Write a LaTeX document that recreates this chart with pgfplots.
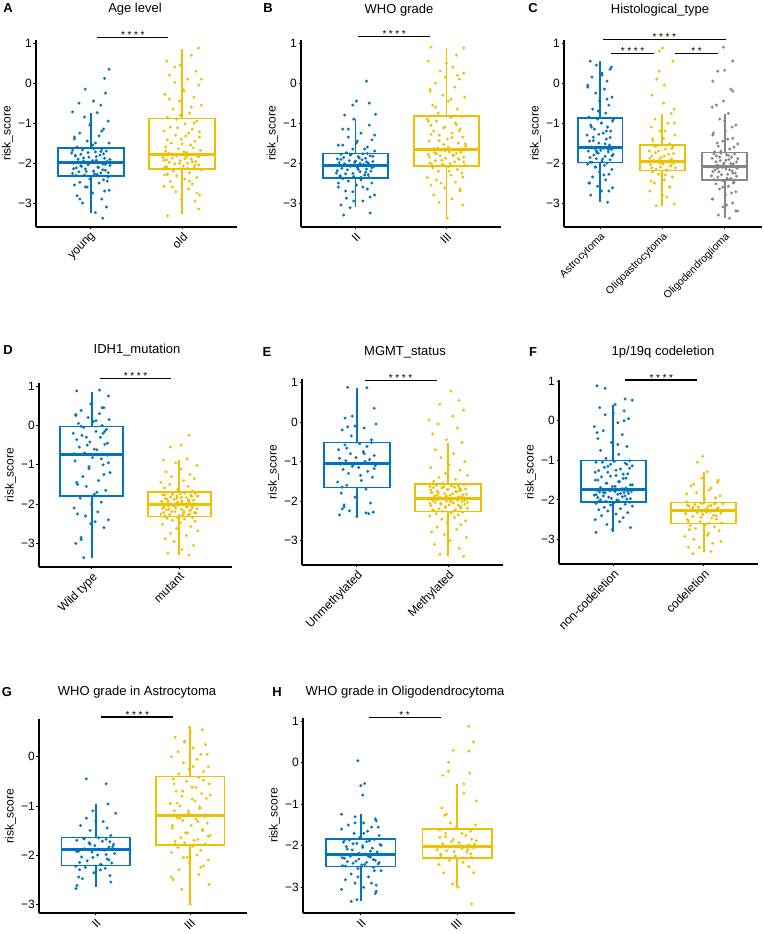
\documentclass[border=0pt]{standalone}
\usepackage{pgfplots}
\pgfplotsset{compat=1.18}
\usepgfplotslibrary{statistics}
\usepackage{fontspec}
\setmainfont{Liberation Sans}
\definecolor{cb}{HTML}{0073C2}
\definecolor{cy}{HTML}{EFC000}
\definecolor{cg}{HTML}{868686}
\newcommand{\bx}[7]{\addplot[draw=#1, solid, line width=1.6pt, boxplot prepared={draw direction=y, draw position=#2, lower whisker=#3, lower quartile=#4, median=#5, upper quartile=#6, upper whisker=#7}] coordinates {};}
\newcommand{\sig}[5]{\draw[line width=1.1pt] (axis cs:#1,#3) -- (axis cs:#2,#3); \node[font=\fontsize{10}{10}\selectfont, anchor=base, inner sep=0pt, yshift=-1.3pt] at (axis cs:#4,#3) {#5};}
\newcommand{\fs}{*\hspace{2.6pt}*\hspace{2.6pt}*\hspace{2.6pt}*}
\newcommand{\ts}{*\hspace{2.6pt}*}
\pgfplotsset{
  panel/.style={
    scale only axis, anchor=south west, clip=false,
    axis x line*=bottom, axis y line*=left,
    axis line style={line width=1.1pt, black},
    xmin=0.4, xmax=2.6, xtick={1,2},
    ymin=-3.6, ymax=1.08,
    ytick={-3,-2,-1,0,1}, yticklabels={−3,−2,−1,0,1},
    tick style={black, line width=0.8pt},
    major tick length=2.5pt, tick align=outside,
    ticklabel style={font=\fontsize{12}{14}\selectfont},
    yticklabel style={inner sep=1.5pt},
    xticklabel style={rotate=45, anchor=north east, inner sep=1.5pt},
    ylabel={risk\_score},
    ylabel style={font=\fontsize{12}{14}\selectfont},
    boxplot/draw direction=y,
    boxplot/box extend=0.72,
    boxplot/whisker extend=0,
    boxplot/every median/.style={line width=3pt},
    boxplot/every whisker/.style={line width=1.8pt},
  },
  pts/.style={only marks, mark=*, mark size=1.45pt, color=#1, mark options={line width=0.1pt}},
}
\begin{document}
\begin{tikzpicture}
\path[use as bounding box] (0pt,0pt) rectangle (763pt,934pt);
\tikzset{ttl/.style={font=\fontsize{13}{15}\selectfont}, lett/.style={font=\fontsize{13}{15}\selectfont\bfseries}}
\node[lett] at (8pt,926pt) {A};
\node[ttl] at (135pt,925pt) {Age level};
\node[lett] at (268pt,926pt) {B};
\node[ttl] at (399pt,924pt) {WHO grade};
\node[lett] at (533pt,926pt) {C};
\node[ttl] at (660pt,924pt) {Histological\_type};
\node[lett] at (8pt,584pt) {D};
\node[ttl] at (137pt,584pt) {IDH1\_mutation};
\node[lett] at (267pt,582pt) {E};
\node[ttl] at (405pt,582pt) {MGMT\_status};
\node[lett] at (533pt,582pt) {F};
\node[ttl] at (663pt,582pt) {1p/19q codeletion};
\node[lett] at (7pt,242pt) {G};
\node[ttl] at (137pt,242pt) {WHO grade in Astrocytoma};
\node[lett] at (277pt,242pt) {H};
\node[ttl] at (405pt,242pt) {WHO grade in Oligodendrocytoma};

% ---------------- A
\begin{axis}[panel, at={(36pt,707pt)}, width=201pt, height=187pt, xticklabels={young,old}]
\addplot[pts=cb] table {
1.13 -3.38
1.05 -3.24
1.17 -3.10
0.91 -3.00
1.12 -2.90
0.85 -2.82
1.02 -2.75
1.20 -2.68
0.96 -2.60
0.82 -2.55
1.09 -2.50
0.88 -2.48
1.14 -2.42
0.99 -2.40
1.19 -2.35
0.93 -2.30
1.07 -2.28
0.80 -2.26
1.11 -2.25
0.87 -2.22
1.03 -2.20
1.16 -2.18
0.94 -2.15
0.84 -2.12
1.08 -2.10
0.90 -2.08
1.21 -2.06
0.97 -2.04
1.13 -2.02
0.81 -2.00
1.01 -1.98
1.18 -1.96
0.92 -1.95
1.06 -1.93
0.86 -1.90
1.15 -1.88
0.98 -1.85
0.83 -1.82
1.10 -1.80
0.89 -1.78
0.79 -1.75
1.05 -1.72
1.17 -1.70
0.91 -1.67
1.12 -1.65
0.85 -1.60
1.02 -1.55
1.20 -1.50
0.96 -1.45
0.82 -1.40
1.09 -1.32
0.88 -1.25
1.14 -1.15
0.99 -1.05
1.19 -0.95
0.93 -0.85
1.07 -0.74
0.80 -0.72
1.11 -0.55
0.87 -0.50
1.03 -0.45
1.16 -0.25
0.94 -0.15
1.15 0.12
1.20 0.35
0.84 -2.31
1.04 -2.27
1.19 -2.24
0.95 -2.21
1.13 -2.17
0.81 -2.14
1.08 -2.11
0.89 -2.07
1.16 -2.03
0.98 -2.01
1.10 -1.99
0.86 -1.97
1.02 -1.94
1.21 -1.91
0.92 -1.87
1.06 -1.84
0.83 -1.81
1.14 -1.77
0.97 -1.74
1.11 -1.71
0.80 -1.68
1.03 -1.64
1.18 -2.45
0.94 -2.60
1.15 -2.70
0.88 -2.90
1.05 -1.50
0.82 -1.35
1.12 -1.20
1.00 -1.00
};
\addplot[pts=cy] table {
1.84 -3.32
2.18 -3.15
2.14 -2.95
1.99 -2.90
2.19 -2.80
1.93 -2.72
2.07 -2.65
1.80 -2.58
2.11 -2.52
1.87 -2.46
2.03 -2.40
2.16 -2.36
1.94 -2.32
1.84 -2.28
2.08 -2.24
1.90 -2.20
2.21 -2.17
1.97 -2.14
2.13 -2.12
1.81 -2.10
2.01 -2.08
2.18 -2.05
1.92 -2.02
2.06 -2.00
1.86 -1.98
2.15 -1.96
1.98 -1.94
1.83 -1.92
2.10 -1.90
1.89 -1.88
1.79 -1.86
2.05 -1.84
2.17 -1.82
1.91 -1.80
2.12 -1.79
1.85 -1.76
2.02 -1.72
2.20 -1.68
1.96 -1.64
1.82 -1.60
2.09 -1.55
1.88 -1.50
2.14 -1.45
1.99 -1.40
2.19 -1.35
1.93 -1.30
2.07 -1.25
1.80 -1.20
2.11 -1.15
1.87 -1.10
2.03 -1.02
2.16 -0.95
1.94 -0.90
1.84 -0.85
2.08 -0.75
1.90 -0.65
2.21 -0.55
1.97 -0.45
2.13 -0.35
1.81 -0.28
2.01 -0.15
2.18 -0.05
1.92 0.02
2.06 0.10
1.86 0.20
2.15 0.30
1.98 0.45
1.83 0.55
2.10 0.70
2.18 0.88
2.06 -2.13
1.83 -2.09
2.14 -2.05
1.97 -2.01
2.11 -1.97
1.80 -1.93
2.03 -1.89
2.18 -1.85
1.94 -1.82
2.15 -1.79
1.88 -1.77
2.05 -1.74
1.82 -1.70
2.12 -1.62
2.00 -1.52
1.84 -1.42
2.04 -1.32
2.19 -1.22
1.95 -1.12
2.13 -1.00
1.81 -2.30
2.08 -2.45
1.89 -2.60
2.16 -2.75
1.98 -0.80
2.10 -0.60
1.86 -0.40
2.02 -0.20
2.21 0.10
1.92 0.40
};
\bx{cb}{1}{-3.24}{-2.32}{-1.99}{-1.63}{-0.74}
\bx{cy}{2}{-3.28}{-2.15}{-1.78}{-0.88}{0.86}
\sig{1.07}{1.85}{1.14}{1.46}{\fs}
\end{axis}

% ---------------- B
\begin{axis}[panel, at={(301pt,707pt)}, width=200pt, height=187pt, xticklabels={II,III}]
\addplot[pts=cb] table {
0.87 -3.30
1.16 -3.25
0.94 -3.12
0.84 -3.05
1.08 -2.95
0.90 -2.88
1.21 -2.80
0.97 -2.72
1.13 -2.65
0.81 -2.60
1.01 -2.55
1.18 -2.50
0.92 -2.45
1.06 -2.42
0.86 -2.39
1.15 -2.36
0.98 -2.34
0.83 -2.32
1.10 -2.30
0.89 -2.27
0.79 -2.25
1.05 -2.22
1.17 -2.20
0.91 -2.17
1.12 -2.15
0.85 -2.13
1.02 -2.11
1.20 -2.09
0.96 -2.07
0.82 -2.06
1.09 -2.04
0.88 -2.02
1.14 -2.00
0.99 -1.98
1.19 -1.96
0.93 -1.94
1.07 -1.92
0.80 -1.90
1.11 -1.88
0.87 -1.86
1.03 -1.84
1.16 -1.82
0.94 -1.80
0.84 -1.78
1.08 -1.77
0.90 -1.74
1.21 -1.70
0.97 -1.65
1.13 -1.60
0.81 -1.55
1.01 -1.50
1.18 -1.42
0.92 -1.35
1.06 -1.25
0.86 -1.15
1.15 -1.05
0.98 -0.90
0.88 -0.80
1.22 -0.78
0.97 -0.55
1.15 -0.50
1.01 -0.45
1.12 0.05
1.06 -2.36
0.83 -2.33
1.14 -2.29
0.97 -2.26
1.11 -2.23
0.80 -2.19
1.03 -2.16
1.18 -2.12
0.94 -2.08
1.15 -2.05
0.88 -2.03
1.05 -2.01
0.82 -1.99
1.12 -1.97
1.00 -1.95
0.84 -1.91
1.04 -1.87
1.19 -1.83
0.95 -1.79
1.13 -1.76
0.81 -2.50
1.08 -2.60
0.89 -2.70
1.16 -2.85
0.98 -2.95
1.10 -1.65
0.86 -1.55
1.02 -1.45
1.21 -1.30
0.92 -1.15
};
\addplot[pts=cy] table {
2.01 -3.38
2.18 -3.05
1.92 -2.98
2.06 -2.90
1.86 -2.80
2.15 -2.70
1.98 -2.62
1.83 -2.55
2.10 -2.48
1.89 -2.42
1.79 -2.36
2.05 -2.30
2.17 -2.25
1.91 -2.20
2.12 -2.16
1.85 -2.12
2.02 -2.09
2.20 -2.06
1.96 -2.03
1.82 -2.00
2.09 -1.97
1.88 -1.94
2.14 -1.91
1.99 -1.88
2.19 -1.85
1.93 -1.82
2.07 -1.80
1.80 -1.78
2.11 -1.76
1.87 -1.74
2.03 -1.72
2.16 -1.70
1.94 -1.68
1.84 -1.67
2.08 -1.66
1.90 -1.63
2.21 -1.58
1.97 -1.54
2.13 -1.50
1.81 -1.45
2.01 -1.40
2.18 -1.35
1.92 -1.30
2.06 -1.25
1.86 -1.20
2.15 -1.15
1.98 -1.10
1.83 -1.05
2.10 -1.00
1.89 -0.95
1.79 -0.90
2.05 -0.86
2.17 -0.84
1.91 -0.75
2.12 -0.65
1.85 -0.55
2.02 -0.45
2.20 -0.35
1.96 -0.30
1.82 -0.20
2.09 -0.10
1.88 0.00
2.14 0.10
1.99 0.15
2.19 0.25
1.93 0.30
2.07 0.40
1.80 0.55
2.11 0.70
1.83 0.90
2.19 0.88
1.84 -2.05
2.04 -2.01
2.19 -1.97
1.95 -1.93
2.13 -1.89
1.81 -1.85
2.08 -1.81
1.89 -1.77
2.16 -1.73
1.98 -1.69
2.10 -1.66
1.86 -1.64
2.02 -1.60
2.21 -1.52
1.92 -1.44
2.06 -1.36
1.83 -1.28
2.14 -1.20
1.97 -1.12
2.11 -1.04
1.80 -0.95
2.03 -2.20
2.18 -2.35
1.94 -2.50
2.15 -2.65
1.88 -0.60
2.05 -0.40
1.82 -0.15
2.12 0.20
2.00 0.50
};
\bx{cb}{1}{-3.10}{-2.37}{-2.05}{-1.76}{-0.90}
\bx{cy}{2}{-3.38}{-2.07}{-1.65}{-0.82}{0.88}
\sig{1.03}{1.82}{1.17}{1.425}{\fs}
\end{axis}

% ---------------- C
\begin{axis}[panel, at={(564pt,707pt)}, width=198pt, height=187pt, xmin=0.42, xmax=3.6, xtick={1,2,3}, xticklabels={Astrocytoma,Oligoastrocytoma,Oligodendroglioma}, xticklabel style={font=\fontsize{10.5}{12}\selectfont}]
\addplot[pts=cb] table {
1.12 -2.98
0.85 -2.80
1.02 -2.70
1.20 -2.62
0.96 -2.58
0.82 -2.50
1.09 -2.42
0.88 -2.35
1.14 -2.28
0.99 -2.22
1.19 -2.16
0.93 -2.10
1.07 -2.06
0.80 -2.03
1.11 -2.00
0.87 -1.98
1.03 -1.95
1.16 -1.92
0.94 -1.89
0.84 -1.86
1.08 -1.83
0.90 -1.80
1.21 -1.78
0.97 -1.75
1.13 -1.72
0.81 -1.70
1.01 -1.68
1.18 -1.66
0.92 -1.64
1.06 -1.63
0.86 -1.60
1.15 -1.55
0.98 -1.50
0.83 -1.45
1.10 -1.40
0.89 -1.35
0.79 -1.30
1.05 -1.25
1.17 -1.20
0.91 -1.15
1.12 -1.10
0.85 -1.05
1.02 -1.00
1.20 -0.95
0.96 -0.90
0.82 -0.85
1.09 -0.75
0.88 -0.65
1.14 -0.55
0.99 -0.45
1.19 -0.35
0.93 -0.25
1.07 -0.15
0.80 -0.05
1.11 0.05
0.87 0.15
1.03 0.25
1.16 0.35
0.94 0.45
0.84 0.55
0.84 -1.98
1.04 -1.90
1.19 -1.82
0.95 -1.74
1.13 -1.66
0.81 -1.60
1.08 -1.52
0.89 -1.44
1.16 -1.36
0.98 -1.28
1.10 -1.20
0.86 -1.10
1.02 -1.00
1.21 -0.90
0.92 -2.10
1.06 -2.30
0.83 -2.50
1.14 -2.70
0.97 -0.70
1.11 -0.40
0.80 -0.10
1.03 0.20
1.18 0.40
0.94 -1.70
1.15 -1.62
};
\addplot[pts=cy] table {
1.90 -3.07
2.19 -3.02
2.07 -2.85
1.80 -2.70
2.11 -2.60
1.87 -2.50
2.03 -2.42
2.16 -2.35
1.94 -2.28
1.84 -2.22
2.08 -2.18
1.90 -2.15
2.21 -2.12
1.97 -2.10
2.13 -2.07
1.81 -2.04
2.01 -2.02
2.18 -2.00
1.92 -1.98
2.06 -1.96
1.86 -1.93
2.15 -1.90
1.98 -1.86
1.83 -1.82
2.10 -1.78
1.89 -1.74
1.79 -1.70
2.05 -1.65
2.17 -1.60
1.91 -1.57
2.12 -1.52
1.85 -1.45
2.02 -1.38
2.20 -1.30
1.96 -1.20
1.82 -1.10
2.09 -1.00
1.88 -0.90
2.14 -0.76
2.19 -0.65
2.02 -0.50
1.83 -0.30
2.03 -0.05
1.91 0.10
1.95 0.30
2.17 0.55
1.95 0.80
2.00 0.88
2.06 -2.18
1.83 -2.12
2.14 -2.06
1.97 -2.00
2.11 -1.94
1.80 -1.88
2.03 -1.82
2.18 -1.76
1.94 -1.70
2.15 -1.64
1.88 -1.58
2.05 -2.30
1.82 -2.45
2.12 -2.60
2.00 -2.80
1.84 -1.40
2.04 -1.20
2.19 -1.00
1.95 -1.92
2.13 -1.98
};
\addplot[pts=cg] table {
3.08 -3.38
2.90 -3.30
3.21 -3.20
2.97 -3.10
3.13 -3.00
2.81 -2.90
3.01 -2.80
3.18 -2.72
2.92 -2.65
3.06 -2.58
2.86 -2.52
3.15 -2.48
2.98 -2.45
2.83 -2.42
3.10 -2.38
2.89 -2.35
2.79 -2.32
3.05 -2.28
3.17 -2.25
2.91 -2.22
3.12 -2.20
2.85 -2.17
3.02 -2.15
3.20 -2.13
2.96 -2.11
2.82 -2.10
3.09 -2.08
2.88 -2.05
3.14 -2.02
2.99 -2.00
3.19 -1.97
2.93 -1.94
3.07 -1.91
2.80 -1.88
3.11 -1.85
2.87 -1.82
3.03 -1.79
3.16 -1.77
2.94 -1.75
2.84 -1.72
3.08 -1.65
2.90 -1.58
3.21 -1.52
2.97 -1.45
3.13 -1.38
2.81 -1.30
3.01 -1.20
3.18 -1.05
2.92 -0.90
3.06 -0.76
2.80 -0.60
2.87 -0.55
2.98 -0.45
3.13 -0.20
3.10 -0.15
2.81 0.05
2.89 0.30
3.00 0.32
3.13 0.55
2.98 0.90
2.84 -2.42
3.04 -2.38
3.19 -2.33
2.95 -2.29
3.13 -2.25
2.81 -2.21
3.08 -2.17
2.89 -2.13
3.16 -2.09
2.98 -2.05
3.10 -2.01
2.86 -1.97
3.02 -1.93
3.21 -1.89
2.92 -1.85
3.06 -1.81
2.83 -1.77
3.14 -2.50
2.97 -2.60
3.11 -2.75
2.80 -2.90
3.03 -3.05
3.18 -3.20
2.94 -1.70
3.15 -1.60
2.88 -1.50
3.05 -1.40
2.82 -1.25
3.12 -1.10
3.00 -0.95
};
\bx{cb}{1}{-2.98}{-1.99}{-1.62}{-0.87}{0.55}
\bx{cy}{2}{-3.07}{-2.19}{-1.95}{-1.55}{-0.76}
\bx{cg}{3}{-3.38}{-2.43}{-2.09}{-1.74}{-0.76}
\sig{1.05}{3.02}{1.10}{2.03}{\fs}
\sig{1.18}{1.86}{0.75}{1.52}{\fs}
\sig{2.20}{2.90}{0.75}{2.55}{\ts}
\end{axis}

% ---------------- D
\begin{axis}[panel, at={(39pt,367pt)}, width=193pt, height=184pt, xticklabels={Wild type,mutant}]
\addplot[pts=cb] table {
0.91 -3.36
0.82 -3.00
0.88 -2.90
0.88 -2.85
1.14 -2.60
0.99 -2.50
1.19 -2.40
0.93 -2.30
1.07 -2.20
0.80 -2.10
1.11 -1.95
0.87 -1.85
1.03 -1.75
1.16 -1.65
0.94 -1.55
0.84 -1.50
1.08 -1.40
0.90 -1.30
1.21 -1.20
0.97 -1.10
1.13 -1.00
0.81 -0.90
1.01 -0.82
1.18 -0.76
0.92 -0.70
1.06 -0.62
0.86 -0.55
1.15 -0.48
0.98 -0.42
0.83 -0.36
1.10 -0.30
0.89 -0.25
0.79 -0.20
1.05 -0.15
1.17 -0.10
0.91 -0.05
1.12 0.00
0.85 0.05
1.02 0.10
1.20 0.15
0.96 0.20
0.82 0.25
1.09 0.30
0.88 0.38
1.14 0.45
0.99 0.55
1.19 0.75
0.83 0.88
1.09 0.90
1.06 -1.70
0.83 -1.45
1.14 -1.25
0.97 -1.05
1.11 -0.85
0.80 -0.72
1.03 -0.60
1.18 -0.45
0.94 -0.30
1.15 -0.15
0.88 -0.02
1.05 0.12
0.82 0.28
1.12 0.45
1.00 -2.00
0.84 -2.25
1.04 -2.45
1.19 -0.95
0.95 -0.50
1.13 -0.20
};
\addplot[pts=cy] table {
2.11 -3.30
1.87 -3.25
2.03 -3.15
2.16 -3.05
1.94 -2.95
1.84 -2.88
2.08 -2.80
1.90 -2.74
2.21 -2.68
1.97 -2.62
2.13 -2.57
1.81 -2.52
2.01 -2.48
2.18 -2.44
1.92 -2.41
2.06 -2.38
1.86 -2.36
2.15 -2.34
1.98 -2.33
1.83 -2.31
2.10 -2.29
1.89 -2.27
1.79 -2.25
2.05 -2.23
2.17 -2.21
1.91 -2.19
2.12 -2.17
1.85 -2.15
2.02 -2.13
2.20 -2.12
1.96 -2.10
1.82 -2.08
2.09 -2.07
1.88 -2.05
2.14 -2.04
1.99 -2.03
2.19 -2.02
1.93 -2.01
2.07 -1.99
1.80 -1.97
2.11 -1.95
1.87 -1.94
2.03 -1.92
2.16 -1.90
1.94 -1.88
1.84 -1.86
2.08 -1.84
1.90 -1.82
2.21 -1.80
1.97 -1.79
2.13 -1.77
1.81 -1.76
2.01 -1.74
2.18 -1.73
1.92 -1.72
2.06 -1.71
1.86 -1.70
2.15 -1.67
1.98 -1.63
1.83 -1.59
2.10 -1.55
1.89 -1.50
1.79 -1.45
2.05 -1.40
2.17 -1.35
1.91 -1.30
2.12 -1.25
1.85 -1.18
2.02 -1.10
2.20 -1.02
1.96 -0.95
1.82 -0.88
2.09 -0.85
1.90 -0.55
2.02 -0.50
2.11 -0.25
1.84 -2.31
2.04 -2.27
2.19 -2.23
1.95 -2.19
2.13 -2.15
1.81 -2.11
2.08 -2.07
1.89 -2.03
2.16 -1.99
1.98 -1.95
2.10 -1.91
1.86 -1.87
2.02 -1.83
2.21 -1.79
1.92 -1.75
2.06 -1.72
1.83 -1.77
2.14 -1.81
1.97 -1.85
2.11 -1.89
1.80 -1.93
2.03 -1.97
2.18 -2.01
1.94 -2.05
2.15 -2.09
1.88 -2.13
2.05 -2.17
1.82 -2.21
2.12 -2.25
2.00 -2.29
};
\bx{cb}{1}{-3.36}{-1.79}{-0.73}{-0.03}{0.86}
\bx{cy}{2}{-3.30}{-2.32}{-2.00}{-1.69}{-0.88}
\sig{1.10}{1.91}{1.20}{1.50}{\fs}
\end{axis}

% ---------------- E
\begin{axis}[panel, at={(302pt,369pt)}, width=201pt, height=186pt, ymin=-3.62, ymax=1.09, xticklabels={Unmethylated,Methylated}]
\addplot[pts=cb] table {
1.00 -2.39
0.81 -2.35
1.13 -2.32
1.18 -2.28
0.92 -2.25
0.84 -2.20
0.86 -2.10
1.15 -2.05
0.98 -1.90
0.83 -1.80
1.10 -1.70
0.89 -1.60
0.79 -1.52
1.05 -1.48
1.17 -1.40
0.91 -1.30
1.12 -1.25
0.85 -1.20
1.02 -1.15
1.20 -1.10
0.96 -1.08
0.82 -1.07
1.09 -1.00
0.88 -0.98
1.14 -0.95
0.99 -0.90
1.19 -0.85
0.93 -0.80
1.07 -0.75
0.80 -0.70
1.11 -0.62
0.87 -0.58
1.03 -0.55
1.16 -0.45
0.94 -0.35
0.84 -0.20
1.08 -0.15
0.90 -0.12
1.21 -0.05
0.87 0.10
0.95 0.15
1.19 0.35
0.90 0.88
1.11 0.87
0.84 -1.65
1.04 -1.35
1.19 -1.18
0.95 -1.12
1.13 -1.04
0.81 -0.92
1.08 -0.80
0.89 -0.66
1.16 -0.52
0.98 -0.10
1.10 -2.30
0.86 -2.15
};
\addplot[pts=cy] table {
2.17 -3.40
1.91 -3.35
2.12 -3.20
1.85 -3.10
2.02 -3.00
2.20 -2.92
1.96 -2.85
1.82 -2.78
2.09 -2.72
1.88 -2.66
2.14 -2.60
1.99 -2.55
2.19 -2.50
1.93 -2.46
2.07 -2.42
1.80 -2.38
2.11 -2.35
1.87 -2.32
2.03 -2.30
2.16 -2.28
1.94 -2.26
1.84 -2.24
2.08 -2.22
1.90 -2.20
2.21 -2.18
1.97 -2.16
2.13 -2.14
1.81 -2.12
2.01 -2.10
2.18 -2.08
1.92 -2.06
2.06 -2.05
1.86 -2.03
2.15 -2.02
1.98 -2.00
1.83 -1.99
2.10 -1.98
1.89 -1.97
1.79 -1.96
2.05 -1.95
2.17 -1.93
1.91 -1.91
2.12 -1.89
1.85 -1.87
2.02 -1.85
2.20 -1.83
1.96 -1.81
1.82 -1.79
2.09 -1.77
1.88 -1.75
2.14 -1.73
1.99 -1.71
2.19 -1.69
1.93 -1.67
2.07 -1.65
1.80 -1.63
2.11 -1.62
1.87 -1.60
2.03 -1.59
2.16 -1.58
1.94 -1.55
1.84 -1.50
2.08 -1.45
1.90 -1.40
2.21 -1.35
1.97 -1.30
2.13 -1.22
1.81 -1.15
2.01 -1.08
2.18 -1.00
1.92 -0.90
2.06 -0.80
1.86 -0.70
2.15 -0.52
1.98 -0.45
1.83 -0.30
2.10 -0.15
1.89 -0.05
1.79 0.05
2.05 0.15
2.17 0.30
1.91 0.45
2.12 0.55
2.03 0.78
2.06 -2.26
1.83 -2.22
2.14 -2.18
1.97 -2.14
2.11 -2.10
1.80 -2.06
2.03 -2.02
2.18 -1.98
1.94 -1.94
2.15 -1.90
1.88 -1.86
2.05 -1.82
1.82 -1.78
2.12 -1.74
2.00 -1.70
1.84 -1.66
2.04 -1.62
2.19 -1.58
1.95 -1.64
2.13 -1.68
1.81 -1.72
2.08 -1.76
1.89 -1.80
2.16 -1.84
1.98 -1.88
2.10 -1.92
1.86 -1.96
2.02 -2.00
2.21 -2.04
1.92 -2.08
};
\bx{cb}{1}{-2.39}{-1.66}{-1.06}{-0.52}{0.86}
\bx{cy}{2}{-3.40}{-2.27}{-1.94}{-1.57}{-0.52}
\sig{1.09}{1.88}{1.05}{1.48}{\fs}
\end{axis}

% ---------------- F
\begin{axis}[panel, at={(559pt,370pt)}, width=199pt, height=184pt, ymin=-3.62, ymax=1.03, xticklabels={non-codeletion,codeletion}]
\addplot[pts=cb] table {
0.81 -2.82
0.99 -2.75
1.19 -2.70
0.93 -2.62
1.07 -2.55
0.80 -2.50
1.11 -2.45
0.87 -2.40
1.03 -2.36
1.16 -2.32
0.94 -2.28
0.84 -2.25
1.08 -2.22
0.90 -2.19
1.21 -2.16
0.97 -2.13
1.13 -2.11
0.81 -2.09
1.01 -2.07
1.18 -2.06
0.92 -2.04
1.06 -2.02
0.86 -2.00
1.15 -1.98
0.98 -1.96
0.83 -1.94
1.10 -1.92
0.89 -1.90
0.79 -1.88
1.05 -1.86
1.17 -1.84
0.91 -1.82
1.12 -1.81
0.85 -1.80
1.02 -1.79
1.20 -1.78
0.96 -1.77
0.82 -1.76
1.09 -1.75
0.88 -1.74
1.14 -1.70
0.99 -1.66
1.19 -1.62
0.93 -1.58
1.07 -1.54
0.80 -1.50
1.11 -1.46
0.87 -1.42
1.03 -1.38
1.16 -1.34
0.94 -1.30
0.84 -1.26
1.08 -1.22
0.90 -1.18
1.21 -1.14
0.97 -1.10
1.13 -1.07
0.81 -1.05
1.01 -1.03
1.18 -1.01
0.92 -0.95
1.06 -0.85
0.86 -0.75
1.15 -0.65
0.98 -0.55
0.83 -0.45
1.10 -0.35
0.89 -0.25
0.79 -0.15
1.05 -0.05
1.17 0.05
0.91 0.15
1.12 0.25
0.85 0.33
1.02 0.41
1.13 0.55
1.21 0.52
0.91 0.82
0.82 0.88
0.84 -2.04
1.04 -2.00
1.19 -1.97
0.95 -1.93
1.13 -1.90
0.81 -1.87
1.08 -1.84
0.89 -1.81
1.16 -1.78
0.98 -1.75
1.10 -1.72
0.86 -1.69
1.02 -1.66
1.21 -1.62
0.92 -1.58
1.06 -1.54
0.83 -1.50
1.14 -1.45
0.97 -1.40
1.11 -1.35
0.80 -1.30
1.03 -1.25
1.18 -1.20
0.94 -1.15
1.15 -1.10
0.88 -1.05
1.05 -0.60
0.82 -0.30
1.12 0.00
1.00 0.20
};
\addplot[pts=cy] table {
1.88 -3.36
2.08 -3.30
1.83 -3.20
2.10 -3.10
1.89 -3.00
1.79 -2.92
2.05 -2.85
2.17 -2.78
1.91 -2.72
2.12 -2.68
1.85 -2.65
2.02 -2.62
2.20 -2.58
1.96 -2.55
1.82 -2.50
2.09 -2.46
1.88 -2.42
2.14 -2.40
1.99 -2.37
2.19 -2.34
1.93 -2.32
2.07 -2.30
1.80 -2.29
2.11 -2.26
1.87 -2.24
2.03 -2.22
2.16 -2.20
1.94 -2.18
1.84 -2.16
2.08 -2.14
1.90 -2.12
2.21 -2.10
1.97 -2.09
2.13 -2.08
1.81 -2.05
2.01 -1.98
2.18 -1.90
1.92 -1.82
2.06 -1.75
1.86 -1.65
2.15 -1.55
1.98 -1.45
2.04 -1.29
1.93 -1.05
1.99 -0.90
2.06 -2.59
1.83 -2.54
2.14 -2.49
1.97 -2.44
2.11 -2.39
1.80 -2.35
2.03 -2.31
2.18 -2.28
1.94 -2.25
2.15 -2.22
1.88 -2.19
2.05 -2.16
1.82 -2.13
2.12 -2.10
2.00 -2.08
1.84 -2.75
2.04 -2.90
2.19 -3.05
1.95 -3.20
2.13 -1.95
1.81 -1.85
2.08 -1.70
1.89 -1.60
2.16 -1.50
1.98 -2.30
};
\bx{cb}{1}{-2.82}{-2.05}{-1.73}{-1.00}{0.41}
\bx{cy}{2}{-3.31}{-2.60}{-2.28}{-2.07}{-1.29}
\sig{1.13}{1.93}{1.03}{1.53}{\fs}
\end{axis}

% ---------------- G
\begin{axis}[panel, at={(39pt,21pt)}, width=208pt, height=194pt, ymin=-3.18, ymax=0.77, ytick={-3,-2,-1,0}, yticklabels={−3,−2,−1,0}, xticklabels={II,III}]
\addplot[pts=cb] table {
0.79 -2.68
0.80 -2.62
1.16 -2.55
0.86 -2.48
1.15 -2.42
0.98 -2.36
0.83 -2.30
1.10 -2.27
0.89 -2.25
0.79 -2.23
1.05 -2.19
1.17 -2.16
0.91 -2.12
1.12 -2.08
0.85 -2.04
1.02 -2.00
1.20 -1.97
0.96 -1.94
0.82 -1.92
1.09 -1.90
0.88 -1.87
1.14 -1.84
0.99 -1.81
1.19 -1.78
0.93 -1.75
1.07 -1.72
0.80 -1.70
1.11 -1.68
0.87 -1.66
1.03 -1.65
1.16 -1.60
0.94 -1.50
0.84 -1.40
1.08 -1.32
0.90 -1.25
1.21 -1.15
0.97 -1.10
1.13 -0.96
0.90 -0.45
1.11 -0.55
1.06 -2.20
0.83 -2.15
1.14 -2.10
0.97 -2.05
1.11 -1.99
0.80 -1.93
1.03 -1.88
1.18 -1.83
0.94 -1.78
1.15 -1.73
0.88 -1.67
1.05 -2.30
0.82 -2.45
1.12 -1.45
1.00 -1.30
};
\addplot[pts=cy] table {
2.00 -3.00
1.91 -2.70
2.20 -2.60
1.82 -2.50
2.09 -2.40
1.88 -2.30
2.14 -2.22
1.99 -2.15
2.19 -2.10
1.93 -2.05
2.07 -2.00
1.80 -1.95
2.11 -1.90
1.87 -1.85
2.03 -1.82
2.16 -1.78
1.94 -1.75
1.84 -1.72
2.08 -1.68
1.90 -1.65
2.21 -1.60
1.97 -1.55
2.13 -1.50
1.81 -1.45
2.01 -1.40
2.18 -1.35
1.92 -1.30
2.06 -1.27
1.86 -1.24
2.15 -1.22
1.98 -1.15
1.83 -1.10
2.10 -1.05
1.89 -1.00
1.79 -0.95
2.05 -0.90
2.17 -0.85
1.91 -0.80
2.12 -0.75
1.85 -0.70
2.02 -0.62
2.20 -0.55
1.96 -0.50
1.82 -0.45
2.09 -0.42
1.88 -0.35
2.14 -0.30
1.99 -0.25
2.19 -0.20
1.93 -0.12
2.07 -0.05
1.80 0.00
2.11 0.05
1.87 0.10
2.03 0.18
2.16 0.25
1.94 0.32
1.84 0.40
2.00 0.50
1.99 0.60
2.13 0.55
1.84 -1.78
2.04 -1.70
2.19 -1.62
1.95 -1.55
2.13 -1.48
1.81 -1.40
2.08 -1.32
1.89 -1.25
2.16 -1.18
1.98 -1.10
2.10 -1.02
1.86 -0.94
2.02 -0.86
2.21 -0.78
1.92 -0.70
2.06 -0.62
1.83 -0.55
2.14 -0.48
1.97 -2.05
2.11 -2.25
1.80 -2.45
2.03 -0.20
2.18 0.05
1.94 0.30
2.15 -1.20
};
\bx{cb}{1}{-2.66}{-2.21}{-1.89}{-1.64}{-0.96}
\bx{cy}{2}{-3.00}{-1.80}{-1.20}{-0.40}{0.60}
\sig{1.06}{1.82}{0.81}{1.44}{\fs}
\end{axis}

% ---------------- H
\begin{axis}[panel, at={(303pt,21pt)}, width=212pt, height=195pt, ymin=-3.62, ymax=1.08, xticklabels={II,III}]
\addplot[pts=cb] table {
0.90 -3.34
0.96 -3.30
1.15 -3.15
1.16 -3.10
1.03 -3.00
1.16 -2.95
0.94 -2.90
0.84 -2.82
1.08 -2.75
0.90 -2.68
1.21 -2.60
0.97 -2.55
1.13 -2.52
0.81 -2.48
1.01 -2.46
1.18 -2.44
0.92 -2.42
1.06 -2.40
0.86 -2.38
1.15 -2.35
0.98 -2.32
0.83 -2.30
1.10 -2.27
0.89 -2.25
0.79 -2.23
1.05 -2.20
1.17 -2.15
0.91 -2.10
1.12 -2.06
0.85 -2.02
1.02 -2.00
1.20 -1.97
0.96 -1.94
0.82 -1.91
1.09 -1.88
0.88 -1.86
1.14 -1.85
0.99 -1.80
1.19 -1.75
0.93 -1.70
1.07 -1.65
0.80 -1.60
1.11 -1.55
0.87 -1.50
1.03 -1.45
1.16 -1.40
0.94 -1.30
0.80 -1.24
1.02 -0.78
1.00 -0.55
1.04 -0.50
0.97 0.05
0.84 -2.49
1.04 -2.45
1.19 -2.41
0.95 -2.37
1.13 -2.33
0.81 -2.29
1.08 -2.26
0.89 -2.23
1.16 -2.21
0.98 -2.18
1.10 -2.13
0.86 -2.08
1.02 -2.04
1.21 -1.99
0.92 -1.95
1.06 -1.90
0.83 -1.86
1.14 -2.60
0.97 -2.75
1.11 -2.90
0.80 -3.05
1.03 -1.70
1.18 -1.55
0.94 -1.45
1.15 -1.35
};
\addplot[pts=cy] table {
2.15 -3.40
2.01 -3.00
1.95 -2.92
1.86 -2.65
2.17 -2.65
2.12 -2.50
1.81 -2.45
2.06 -2.40
1.92 -2.35
2.15 -2.28
1.98 -2.25
1.83 -2.20
2.10 -2.15
1.89 -2.12
1.79 -2.10
2.05 -2.07
2.17 -2.05
1.91 -2.03
2.12 -1.98
1.85 -1.95
2.02 -1.92
2.20 -1.88
1.96 -1.85
1.82 -1.80
2.09 -1.75
1.88 -1.70
2.14 -1.65
1.99 -1.55
2.19 -1.50
1.93 -1.45
1.89 -1.24
1.87 -1.27
1.84 -1.09
2.20 -0.92
2.07 -0.73
2.07 -0.51
2.13 -0.25
1.85 -0.30
1.91 -0.20
1.91 0.01
2.12 0.28
1.96 0.30
2.17 0.50
2.12 0.88
2.06 -2.29
1.83 -2.24
2.14 -2.19
1.97 -2.14
2.11 -2.09
1.80 -2.04
2.03 -2.00
2.18 -1.96
1.94 -1.90
2.15 -1.84
1.88 -1.78
2.05 -1.70
1.82 -1.62
2.12 -2.50
2.00 -2.80
};
\bx{cb}{1}{-3.34}{-2.50}{-2.22}{-1.84}{-1.24}
\bx{cy}{2}{-3.00}{-2.30}{-2.01}{-1.60}{-0.52}
\sig{1.08}{1.83}{1.10}{1.455}{\ts}
\end{axis}
\end{tikzpicture}
\end{document}
